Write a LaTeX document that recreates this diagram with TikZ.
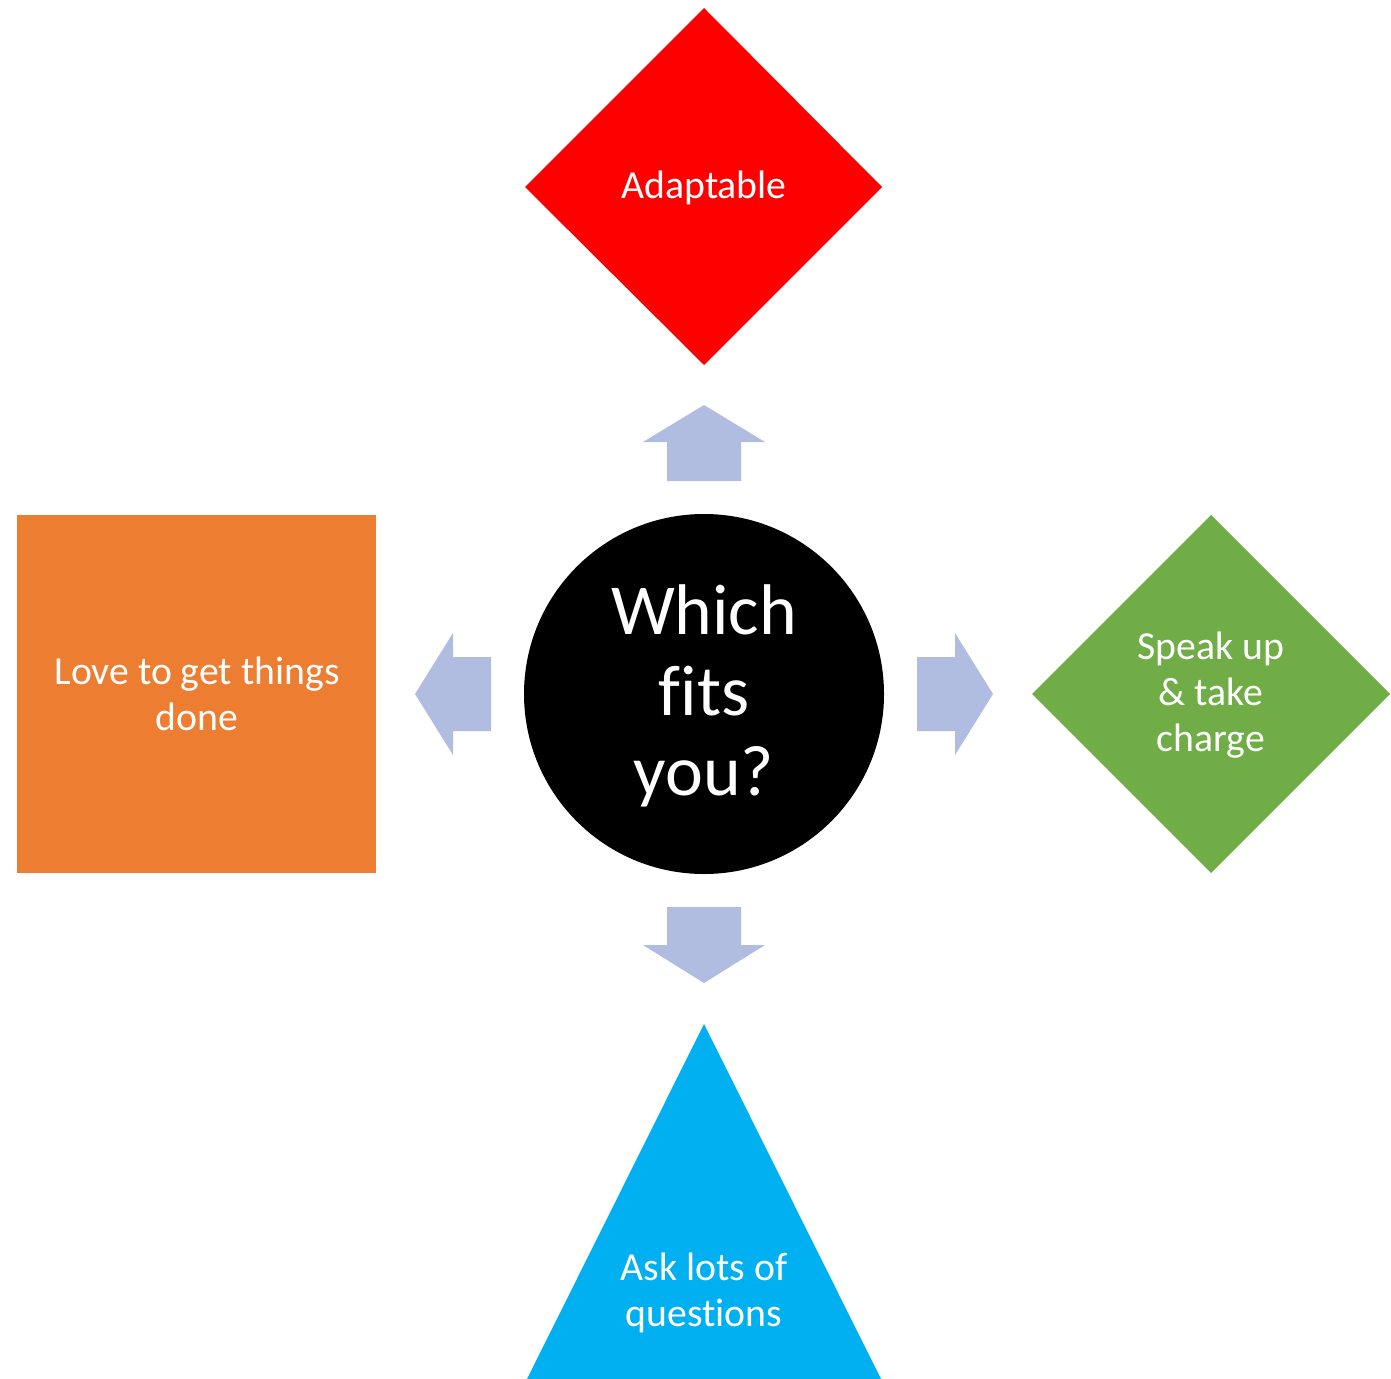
\documentclass[tikz,border=0pt]{standalone}
\usepackage{fontspec}
\setmainfont[Ligatures=NoCommon]{Carlito}
\usepackage{xcolor}
\definecolor{shapered}{HTML}{FF0000}
\definecolor{shapeorange}{HTML}{ED7D31}
\definecolor{shapegreen}{HTML}{70AD47}
\definecolor{shapeblue}{HTML}{00B0F0}
\definecolor{arrowblue}{HTML}{B0BDE0}
\tikzset{
  label text/.style={text=white, align=center, font=\fontsize{11.3}{13}\selectfont},
  big text/.style={text=white, align=center, font=\fontsize{20.4}{22.8}\selectfont},
  fat arrow/.style={fill=arrowblue}
}

\begin{document}
\begin{tikzpicture}[x=0.01cm, y=-0.01cm]
\useasboundingbox (0,0) rectangle (1391,1379);
% shapes
\fill[shapered] (704,8) -- (882,187) -- (704,365) -- (525,187) -- cycle;
\node[label text] (adapt) at (704,188) {Adaptable};
\fill[black] (704,694) circle (180);
\node[big text] (which) at (704,696) {Which\\fits\\you?};
\fill[shapeorange] (17,515) rectangle (376,873);
\node[label text] (love) at (197,694) {Love to get things\\done};
\fill[shapegreen] (1211,515) -- (1390,694) -- (1211,873) -- (1032,694) -- cycle;
\node[label text] (speak) at (1211,695) {Speak up\\\& take\\charge};
\fill[shapeblue] (704,1024) -- (881,1379) -- (527,1379) -- cycle;
\node[label text] (ask) at (704,1293) {Ask lots of\\questions};
% arrows
\fill[fat arrow] (704,405) -- (765,442) -- (741,442) -- (741,481) -- (667,481) -- (667,442) -- (643,442) -- cycle;
\fill[fat arrow] (704,983) -- (765,945) -- (741,945) -- (741,907) -- (667,907) -- (667,945) -- (643,945) -- cycle;
\fill[fat arrow] (415,694) -- (453,633) -- (453,657) -- (491,657) -- (491,731) -- (453,731) -- (453,755) -- cycle;
\fill[fat arrow] (993,694) -- (955,633) -- (955,657) -- (917,657) -- (917,731) -- (955,731) -- (955,755) -- cycle;
\end{tikzpicture}
\end{document}
